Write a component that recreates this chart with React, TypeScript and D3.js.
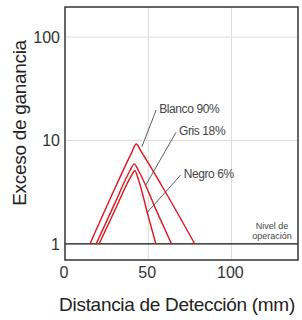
import React from "react";
import * as d3 from "d3";

const xTicks = [0, 50, 100];
const yTicks = [1, 10, 100];
const seriesNames = ["Blanco 90%", "Gris 18%", "Negro 6%"];
const blancoX = [15, 30, 40, 42.8, 45.8, 60, 78];
const blancoY = [1, 3.45, 7.6, 9.25, 7.8, 3.25, 1];
const grisX = [18.7, 30, 39, 41.6, 44.2, 55, 64];
const grisY = [1, 2.48, 5.1, 5.95, 5.1, 2.09, 1];
const negroX = [20.5, 31, 39.5, 42, 44, 50, 54.6];
const negroY = [1, 2.3, 4.45, 5.1, 4.25, 1.86, 1];
// leader lines: [labelX, labelY, curveX, curveY]
const leaderLabelX = [54.8, 66.7, 69.5];
const leaderLabelY = [19.7, 12.0, 4.64];
const leaderEndX = [46.2, 48.6, 49.2];
const leaderEndY = [8.7, 3.72, 2.0];
const operationLevel = 1;

export default function App() {
  const W = 302, H = 320;
  const x = d3.scaleLinear().domain([0, 140]).range([65, 298]);
  const y = d3.scaleLog().domain([0.7, 195]).range([260, 7]);
  const line = d3
    .line<[number, number]>()
    .x((d) => x(d[0]))
    .y((d) => y(d[1]))
    .curve(d3.curveMonotoneX);
  const series = [
    blancoX.map((v, i) => [v, blancoY[i]] as [number, number]),
    grisX.map((v, i) => [v, grisY[i]] as [number, number]),
    negroX.map((v, i) => [v, negroY[i]] as [number, number]),
  ];
  const font = "'Liberation Sans', Arial, sans-serif";
  return (
    <svg width={W} height={H} style={{ position: "absolute", left: 0, top: 0 }} fontFamily={font}>
      <rect x={0} y={0} width={W} height={H} fill="#fff" />
      {xTicks.filter((t) => t > 0).map((t) => (
        <line key={"gx" + t} x1={x(t)} x2={x(t)} y1={7} y2={260} stroke="#dcdcdc" strokeWidth={1} />
      ))}
      {yTicks.filter((t) => t > 1).map((t) => (
        <line key={"gy" + t} x1={65} x2={298} y1={y(t)} y2={y(t)} stroke="#dcdcdc" strokeWidth={1} />
      ))}
      <line x1={65} x2={298} y1={y(operationLevel)} y2={y(operationLevel)} stroke="#111" strokeWidth={1.2} />
      {series.map((s, i) => (
        <path key={i} d={line(s) || ""} fill="none" stroke="#e3121b" strokeWidth={1.4} />
      ))}
      {seriesNames.map((n, i) => (
        <g key={n}>
          <line
            x1={x(leaderLabelX[i])}
            y1={y(leaderLabelY[i])}
            x2={x(leaderEndX[i])}
            y2={y(leaderEndY[i])}
            stroke="#333"
            strokeWidth={0.8}
          />
          <text
            x={x(leaderLabelX[i]) + 3}
            y={y(leaderLabelY[i]) + 3}
            fontSize={12}
            fill="#444"
            letterSpacing={-0.4}
          >
            {n}
          </text>
        </g>
      ))}
      <text x={272} y={229} fontSize={9} fill="#444" textAnchor="middle">Nivel de</text>
      <text x={272} y={239} fontSize={9} fill="#444" textAnchor="middle">operación</text>
      <rect x={65} y={7} width={233} height={253} fill="none" stroke="#333" strokeWidth={1.5} />
      {xTicks.map((t) => (
        <text key={"xt" + t} x={x(t) - 1} y={278} fontSize={16} fill="#333" textAnchor="middle">
          {t}
        </text>
      ))}
      {yTicks.map((t) => (
        <text key={"yt" + t} x={60} y={y(t) + 6} fontSize={16} fill="#333" textAnchor="end">
          {t}
        </text>
      ))}
      <text x={177} y={311} fontSize={19} fill="#222" textAnchor="middle" letterSpacing={-0.3}>
        Distancia de Detección (mm)
      </text>
      <text
        transform={`translate(26,123) rotate(-90)`}
        fontSize={19}
        fill="#222"
        textAnchor="middle"
        letterSpacing={-0.3}
      >
        Exceso de ganancia
      </text>
    </svg>
  );
}
